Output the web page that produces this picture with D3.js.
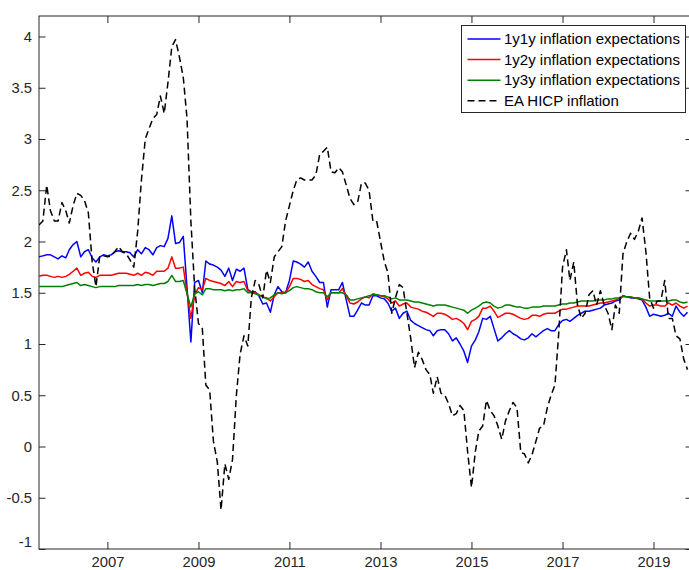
<!DOCTYPE html>
<html>
<head>
<meta charset="utf-8">
<script src="https://cdn.jsdelivr.net/npm/d3@7"></script>
<style>
  body { margin: 0; background: #fff; }
  svg { display: block; font-family: "Liberation Sans", Arial, sans-serif; }
  .axis text { fill: #262626; font-size: 14.8px; }
  .axis line { stroke: #262626; }
  .legend text { fill: #000; font-size: 15px; }
</style>
</head>
<body>
<svg class="chart" width="689" height="570"></svg>
<script>

// monthly observations, Jul 2005 .. Oct 2019
const startMonth = new Date(2005, 6, 1);

const y1y1 = [
  1.85, 1.86, 1.87, 1.87, 1.85, 1.83, 1.86, 1.84, 1.92, 1.97,
  2.00, 1.85, 1.90, 1.92, 1.84, 1.80, 1.85, 1.87, 1.86, 1.87,
  1.90, 1.91, 1.90, 1.90, 1.89, 1.85, 1.92, 1.88, 1.94, 1.92,
  1.87, 1.94, 1.96, 1.95, 2.03, 2.25, 1.98, 1.99, 2.05, 1.55,
  1.02, 1.60, 1.62, 1.50, 1.81, 1.78, 1.77, 1.75, 1.72, 1.66,
  1.74, 1.62, 1.73, 1.71, 1.74, 1.53, 1.51, 1.51, 1.47, 1.39,
  1.40, 1.31, 1.48, 1.56, 1.51, 1.50, 1.62, 1.81, 1.80, 1.78,
  1.75, 1.80, 1.71, 1.66, 1.60, 1.60, 1.36, 1.53, 1.53, 1.53,
  1.60, 1.43, 1.27, 1.27, 1.33, 1.40, 1.38, 1.38, 1.47, 1.47,
  1.45, 1.44, 1.40, 1.32, 1.35, 1.25, 1.30, 1.32, 1.23, 1.20,
  1.18, 1.16, 1.14, 1.13, 1.08, 1.13, 1.14, 1.14, 1.10, 1.03,
  1.06, 1.00, 0.93, 0.82, 0.98, 1.04, 1.12, 1.25, 1.24, 1.27,
  1.15, 1.03, 1.06, 1.10, 1.13, 1.10, 1.08, 1.05, 1.04, 1.06,
  1.10, 1.07, 1.10, 1.13, 1.15, 1.13, 1.13, 1.19, 1.23, 1.24,
  1.22, 1.25, 1.28, 1.30, 1.32, 1.32, 1.33, 1.34, 1.35, 1.38,
  1.39, 1.40, 1.42, 1.43, 1.47, 1.46, 1.45, 1.45, 1.44, 1.43,
  1.36, 1.27, 1.29, 1.28, 1.27, 1.28, 1.30, 1.27, 1.37, 1.31,
  1.27, 1.31
];

const y1y2 = [
  1.66, 1.67, 1.67, 1.66, 1.65, 1.66, 1.65, 1.66, 1.68, 1.71,
  1.74, 1.67, 1.69, 1.70, 1.66, 1.65, 1.67, 1.67, 1.67, 1.67,
  1.68, 1.69, 1.69, 1.69, 1.68, 1.67, 1.69, 1.67, 1.70, 1.69,
  1.67, 1.71, 1.71, 1.71, 1.74, 1.85, 1.74, 1.74, 1.75, 1.50,
  1.25, 1.48, 1.55, 1.53, 1.64, 1.62, 1.61, 1.60, 1.59, 1.57,
  1.61, 1.56, 1.61, 1.60, 1.61, 1.52, 1.51, 1.50, 1.48, 1.46,
  1.45, 1.42, 1.46, 1.50, 1.50, 1.50, 1.56, 1.64, 1.64, 1.63,
  1.61, 1.62, 1.58, 1.56, 1.54, 1.53, 1.43, 1.50, 1.50, 1.50,
  1.54, 1.47, 1.40, 1.39, 1.41, 1.44, 1.46, 1.45, 1.49, 1.48,
  1.47, 1.46, 1.44, 1.40, 1.42, 1.37, 1.39, 1.40, 1.36, 1.35,
  1.34, 1.32, 1.31, 1.29, 1.27, 1.30, 1.30, 1.29, 1.27, 1.24,
  1.25, 1.23, 1.20, 1.14, 1.22, 1.24, 1.27, 1.35, 1.35, 1.37,
  1.32, 1.26, 1.28, 1.30, 1.30, 1.29, 1.27, 1.25, 1.24, 1.25,
  1.28, 1.28, 1.27, 1.29, 1.30, 1.30, 1.30, 1.32, 1.34, 1.34,
  1.35, 1.36, 1.37, 1.37, 1.37, 1.37, 1.38, 1.39, 1.40, 1.40,
  1.41, 1.42, 1.43, 1.44, 1.47, 1.46, 1.46, 1.45, 1.45, 1.44,
  1.40, 1.37, 1.38, 1.38, 1.37, 1.37, 1.40, 1.38, 1.40, 1.37,
  1.35, 1.37
];

const y1y3 = [
  1.56, 1.56, 1.56, 1.56, 1.56, 1.56, 1.56, 1.57, 1.58, 1.59,
  1.60, 1.57, 1.58, 1.57, 1.56, 1.55, 1.56, 1.56, 1.56, 1.56,
  1.56, 1.57, 1.57, 1.57, 1.57, 1.57, 1.58, 1.57, 1.58, 1.58,
  1.57, 1.58, 1.59, 1.59, 1.61, 1.67, 1.61, 1.61, 1.62, 1.49,
  1.36, 1.49, 1.51, 1.48, 1.54, 1.54, 1.53, 1.53, 1.53, 1.52,
  1.53, 1.52, 1.53, 1.53, 1.54, 1.50, 1.50, 1.49, 1.48, 1.46,
  1.44, 1.45, 1.48, 1.50, 1.49, 1.50, 1.52, 1.55, 1.56, 1.55,
  1.54, 1.54, 1.53, 1.51, 1.50, 1.50, 1.46, 1.50, 1.50, 1.50,
  1.50, 1.48, 1.43, 1.43, 1.44, 1.45, 1.46, 1.47, 1.48, 1.48,
  1.47, 1.47, 1.46, 1.44, 1.45, 1.43, 1.43, 1.43, 1.42, 1.41,
  1.41, 1.40, 1.39, 1.38, 1.37, 1.38, 1.38, 1.38, 1.37, 1.36,
  1.35, 1.34, 1.33, 1.30, 1.33, 1.35, 1.37, 1.40, 1.41, 1.40,
  1.37, 1.35, 1.36, 1.38, 1.38, 1.37, 1.36, 1.36, 1.35, 1.35,
  1.36, 1.36, 1.36, 1.37, 1.37, 1.37, 1.37, 1.38, 1.39, 1.39,
  1.40, 1.40, 1.41, 1.42, 1.42, 1.42, 1.42, 1.43, 1.43, 1.43,
  1.44, 1.44, 1.45, 1.45, 1.46, 1.46, 1.46, 1.45, 1.45, 1.44,
  1.43, 1.42, 1.42, 1.42, 1.42, 1.42, 1.42, 1.43, 1.43, 1.41,
  1.40, 1.41
];

const hicp = [
  2.16, 2.20, 2.55, 2.30, 2.20, 2.20, 2.38, 2.30, 2.18, 2.35,
  2.47, 2.45, 2.40, 2.28, 1.80, 1.56, 1.86, 1.86, 1.85, 1.86,
  1.90, 1.95, 1.90, 1.88, 1.82, 1.75, 2.10, 2.60, 3.00, 3.10,
  3.20, 3.24, 3.42, 3.25, 3.55, 3.90, 3.97, 3.80, 3.60, 3.20,
  2.20, 1.55, 1.20, 1.15, 0.60, 0.55, 0.05, -0.15, -0.62, -0.17,
  -0.32, -0.13, 0.50, 0.90, 1.08, 0.98, 1.45, 1.62, 1.58, 1.45,
  1.72, 1.60, 1.85, 1.90, 1.95, 2.20, 2.35, 2.50, 2.60, 2.62,
  2.60, 2.60, 2.60, 2.65, 2.85, 2.88, 2.92, 2.68, 2.67, 2.72,
  2.68, 2.55, 2.42, 2.36, 2.38, 2.57, 2.57, 2.50, 2.20, 2.20,
  2.00, 1.80, 1.70, 1.30, 1.45, 1.58, 1.55, 1.30, 1.05, 0.77,
  0.92, 0.85, 0.75, 0.70, 0.52, 0.68, 0.52, 0.50, 0.42, 0.30,
  0.32, 0.40, 0.35, -0.05, -0.40, -0.05, 0.15, 0.20, 0.45, 0.35,
  0.30, 0.20, 0.07, 0.25, 0.35, 0.43, 0.38, -0.06, -0.07, -0.16,
  -0.08, 0.05, 0.18, 0.20, 0.38, 0.50, 0.60, 1.10, 1.75, 1.92,
  1.62, 1.80, 1.38, 1.25, 1.30, 1.48, 1.52, 1.38, 1.52, 1.38,
  1.30, 1.14, 1.38, 1.30, 1.88, 2.00, 2.08, 2.02, 2.10, 2.23,
  1.90, 1.45, 1.35, 1.42, 1.42, 1.62, 1.25, 1.25, 1.08, 1.05,
  0.85, 0.75
];

const seriesNames = [
  '1y1y inflation expectations',
  '1y2y inflation expectations',
  '1y3y inflation expectations',
  'EA HICP inflation'
];
const seriesValues = [y1y1, y1y2, y1y3, hicp];

const xTickYears = [2007, 2009, 2011, 2013, 2015, 2017, 2019];
const yTicks = [-1, -0.5, 0, 0.5, 1, 1.5, 2, 2.5, 3, 3.5, 4];

const colors = ['#0000ff', '#ff0000', '#008000', '#000000'];
const dashes = [null, null, null, '7,4'];

const box = { left: 39, top: 16, right: 692, bottom: 549 };
const w = box.right - box.left;
const h = box.bottom - box.top;

const dates = hicp.map((d, i) => d3.timeMonth.offset(startMonth, i));

const x = d3.scaleTime()
    .domain([startMonth, new Date(2019, 10, 6)])
    .range([0, w]);

const y = d3.scaleLinear()
    .domain([-1, 4.2])
    .range([h, 0]);

const svg = d3.select('svg.chart');

const g = svg.append('g')
    .attr('transform', `translate(${box.left},${box.top})`);

g.append('clipPath')
    .attr('id', 'plot-clip')
  .append('rect')
    .attr('width', w)
    .attr('height', h);

// axes, matlab style: inward ticks on all four sides
const xTicks = xTickYears.map(yr => new Date(yr, 0, 1));

g.append('g')
    .attr('class', 'axis')
    .attr('transform', `translate(0,${h})`)
    .call(d3.axisBottom(x).tickValues(xTicks).tickFormat(d3.timeFormat('%Y'))
        .tickSizeInner(-7).tickSizeOuter(0).tickPadding(7.5));

g.append('g')
    .attr('class', 'axis')
    .call(d3.axisTop(x).tickValues(xTicks).tickFormat('')
        .tickSizeInner(-7).tickSizeOuter(0));

const yAxis = g.append('g')
    .attr('class', 'axis')
    .call(d3.axisLeft(y).tickValues(yTicks).tickFormat(d => String(d))
        .tickSizeInner(-6.5).tickSizeOuter(0).tickPadding(7));

// bottom label sits a little above its tick
yAxis.selectAll('.tick')
    .filter(d => d === -1)
    .select('text')
    .attr('y', -7);

g.append('g')
    .attr('class', 'axis')
    .attr('transform', `translate(${w},0)`)
    .call(d3.axisRight(y).tickValues(yTicks).tickFormat('')
        .tickSizeInner(-6.5).tickSizeOuter(0));

g.selectAll('.axis .domain').remove();

g.append('rect')
    .attr('width', w)
    .attr('height', h)
    .attr('fill', 'none')
    .attr('stroke', '#262626')
    .attr('stroke-width', 1);

// lines
const line = d3.line()
    .x((d, i) => x(dates[i]))
    .y(d => y(d));

g.append('g')
    .attr('clip-path', 'url(#plot-clip)')
  .selectAll('path')
  .data(seriesValues)
  .join('path')
    .attr('d', line)
    .attr('fill', 'none')
    .attr('stroke', (d, i) => colors[i])
    .attr('stroke-width', 1.5)
    .attr('stroke-dasharray', (d, i) => dashes[i])
    .attr('stroke-linejoin', 'round');

// legend
const legend = svg.append('g')
    .attr('class', 'legend')
    .attr('transform', 'translate(461.5,25.5)');

legend.append('rect')
    .attr('width', 224)
    .attr('height', 87)
    .attr('fill', '#fff')
    .attr('stroke', '#262626')
    .attr('stroke-width', 1);

const items = legend.selectAll('g.item')
  .data(seriesNames)
  .join('g')
    .attr('class', 'item')
    .attr('transform', (d, i) => `translate(0,${13.5 + i * 20.6})`);

items.append('line')
    .attr('x1', 6)
    .attr('x2', 39)
    .attr('stroke', (d, i) => colors[i])
    .attr('stroke-width', 1.5)
    .attr('stroke-dasharray', (d, i) => dashes[i]);

items.append('text')
    .attr('x', 42.5)
    .attr('dy', '0.35em')
    .text(d => d);

</script>
</body>
</html>
